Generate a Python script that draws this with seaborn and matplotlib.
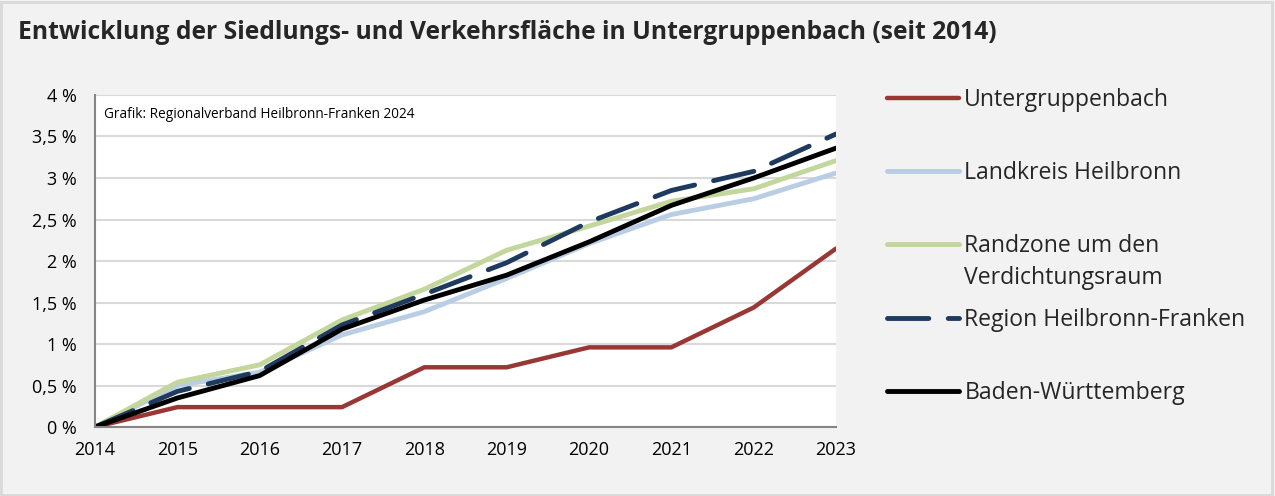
import matplotlib
matplotlib.use("Agg")
import matplotlib.pyplot as plt
from matplotlib.ticker import FuncFormatter, MultipleLocator
from matplotlib.patches import Rectangle
import seaborn as sns
import pandas as pd

# Cumulative growth of settlement and traffic area since 2014, in percent
years = [2014, 2015, 2016, 2017, 2018, 2019, 2020, 2021, 2022, 2023]
untergruppenbach = [0.0, 0.24, 0.24, 0.24, 0.72, 0.72, 0.96, 0.96, 1.44, 2.15]
landkreis_heilbronn = [0.0, 0.50, 0.66, 1.11, 1.39, 1.79, 2.21, 2.56, 2.75, 3.06]
randzone = [0.0, 0.54, 0.75, 1.29, 1.66, 2.13, 2.42, 2.72, 2.87, 3.21]
region_hnf = [0.0, 0.43, 0.67, 1.23, 1.60, 1.98, 2.47, 2.85, 3.08, 3.53]
baden_wuerttemberg = [0.0, 0.35, 0.62, 1.18, 1.53, 1.83, 2.23, 2.67, 3.00, 3.36]

series_labels = [
    "Untergruppenbach",
    "Landkreis Heilbronn",
    "Randzone um den",
    "Region Heilbronn-Franken",
    "Baden-Württemberg",
]
randzone_second_line = "Verdichtungsraum"
series_values = [untergruppenbach, landkreis_heilbronn, randzone, region_hnf, baden_wuerttemberg]
series_colors = ["#993735", "#b9cde5", "#c3d69b", "#1f3a5f", "#000000"]
series_widths = [3.2, 3.5, 3.5, 3.5, 3.5]

title = "Entwicklung der Siedlungs- und Verkehrsfläche in Untergruppenbach (seit 2014)"
source_note = "Grafik: Regionalverband Heilbronn-Franken 2024"

sns.set_style("white")
plt.rcParams["font.family"] = ["Open Sans", "DejaVu Sans"]

bg = "#f2f2f2"
fig = plt.figure(figsize=(12.75, 4.96), dpi=100, facecolor=bg)
ax = fig.add_axes([0.0745, 0.139, 0.5812, 0.6695])
ax.set_facecolor("white")

for label, vals, col, lw in zip(series_labels, series_values, series_colors, series_widths):
    df = pd.DataFrame({"Jahr": years, "Anteil": vals})
    sns.lineplot(data=df, x="Jahr", y="Anteil", ax=ax, color=col, linewidth=lw,
                 label=label, legend=False, solid_capstyle="round")
    if label.startswith("Region"):
        line = ax.lines[-1]
        line.set_dashes((8.5, 4.0))
        line.set_dash_capstyle("round")

ax.set_xlim(years[0], years[-1])
ax.set_ylim(0, 4)
ax.set_xticks(years)
ax.yaxis.set_major_locator(MultipleLocator(0.5))
ax.yaxis.set_major_formatter(
    FuncFormatter(lambda v, _: (f"{v:g}".replace(".", ",")) + " %"))
ax.grid(axis="y", color="#d9d9d9", linewidth=1.5)
ax.grid(axis="x", visible=False)
ax.set_axisbelow(True)
for side in ("top", "right"):
    ax.spines[side].set_visible(False)
for side in ("left", "bottom"):
    ax.spines[side].set_color("#868686")
    ax.spines[side].set_linewidth(1.5)
ax.tick_params(axis="both", direction="out", length=5, width=1.2, color="#868686",
               labelsize=13, labelcolor="#000000")
ax.tick_params(axis="y", pad=8)
ax.tick_params(axis="x", pad=5)
ax.set_xlabel("")
ax.set_ylabel("")

ax.text(0.012, 0.94, source_note, transform=ax.transAxes, fontsize=9.8,
        va="center", ha="left", color="#000000")

fig.text(0.014, 0.935, title, fontsize=17.7, fontweight="bold", va="center", ha="left")

handles, labels = ax.get_legend_handles_labels()
leg = fig.legend(handles, labels, loc="upper left", bbox_to_anchor=(0.6885, 0.842),
                 frameon=False, fontsize=16.6, handlelength=3.1, handletextpad=0.25,
                 labelspacing=2.14, borderaxespad=0)

# second line of the "Randzone" legend label, placed under its first line
fig.canvas.draw()
first_line = leg.get_texts()[2].get_window_extent()
x_fig, y_fig = fig.transFigure.inverted().transform((first_line.x0, first_line.y0 - 32))
fig.text(x_fig, y_fig, randzone_second_line, fontsize=16.6, ha="left", va="bottom")

fig.add_artist(Rectangle((0.001, 0.002), 0.997, 0.994, transform=fig.transFigure,
                         fill=False, edgecolor="#d9d9d9", linewidth=2))

fig.savefig("out.png", dpi=100, facecolor=bg)
